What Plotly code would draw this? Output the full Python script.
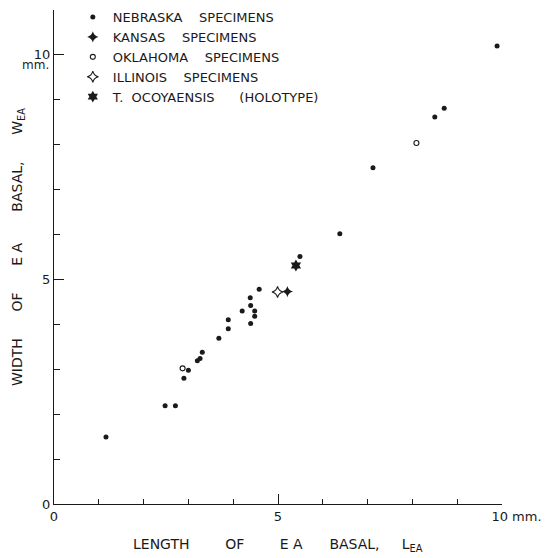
import plotly.graph_objects as go

NB = "\u00a0"

# Data (length L_EA, width W_EA) in mm
nebraska_x = [1.16, 2.48, 2.71, 2.90, 3.00, 3.20, 3.26, 3.31, 3.68, 3.89, 3.89, 4.20,
              4.39, 4.48, 4.48, 4.39, 4.38, 4.58, 5.49, 6.38, 7.12, 8.50, 8.71, 9.89]
nebraska_y = [1.49, 2.19, 2.19, 2.80, 2.98, 3.19, 3.24, 3.38, 3.69, 3.90, 4.10, 4.30,
              4.42, 4.30, 4.18, 4.02, 4.59, 4.78, 5.51, 6.02, 7.49, 8.62, 8.81, 10.20]
kansas_x = [5.21]
kansas_y = [4.73]
oklahoma_x = [2.87, 8.09]
oklahoma_y = [3.02, 8.04]
illinois_x = [4.99]
illinois_y = [4.72]
holotype_x = [5.40]
holotype_y = [5.31]

x_tickvals = [0, 5, 10]
x_ticktext = ["0", "5", NB * 7 + "10" + NB + "mm."]
x_minor = [1, 2, 3, 4, 6, 7, 8, 9]
y_tickvals = [0, 5, 10]
y_ticktext = ["0", "5", "10"]
y_unit = "mm."
y_minor = [1, 2, 3, 4, 6, 7, 8, 9, 11]

FONT = "DejaVu Sans, Liberation Sans, Arial, sans-serif"
INK = "#1a1a1a"

fig = go.Figure()
series = [
    ("NEBRASKA" + NB * 4 + "SPECIMENS", nebraska_x, nebraska_y, "circle", 5),
    ("KANSAS" + NB * 4 + "SPECIMENS", kansas_x, kansas_y, "star-diamond", 8),
    ("OKLAHOMA" + NB * 4 + "SPECIMENS", oklahoma_x, oklahoma_y, "circle-open", 5),
    ("ILLINOIS" + NB * 4 + "SPECIMENS", illinois_x, illinois_y, "star-diamond-open", 8),
    ("T." + NB * 2 + "OCOYAENSIS" + NB * 6 + "(HOLOTYPE)", holotype_x, holotype_y, "hexagram", 9),
]
for name, xs, ys, sym, size in series:
    fig.add_trace(go.Scatter(
        x=xs, y=ys, mode="markers", name=name,
        marker=dict(symbol=sym, size=size, color=INK,
                    line=dict(color=INK, width=1.1 if "open" in sym else 0)),
    ))

axis_common = dict(
    showgrid=False, zeroline=False, showline=True, linecolor=INK, linewidth=1.3,
    ticks="inside", ticklen=10, tickwidth=1.3, tickcolor=INK,
    tickfont=dict(family=FONT, size=13, color=INK),
)

x_title = ("LENGTH" + NB * 8 + "OF" + NB * 8 + "E" + NB + "A" + NB * 6 + "BASAL,"
           + NB * 5 + "L<sub>EA</sub>")
y_title = ("WIDTH" + NB * 6 + "OF" + NB * 6 + "E" + NB + "A" + NB * 7 + "BASAL,"
           + NB * 6 + "W<sub>EA</sub>")

fig.update_layout(
    width=550, height=558,
    margin=dict(l=54, r=48, t=10, b=54, autoexpand=False),
    paper_bgcolor="white", plot_bgcolor="white",
    font=dict(family=FONT, size=13, color=INK),
    xaxis=dict(range=[0, 10], tickmode="array", tickvals=x_tickvals, ticktext=x_ticktext,
               minor=dict(tickmode="array", tickvals=x_minor, ticks="inside", ticklen=5,
                          tickwidth=1.2, tickcolor=INK),
               automargin=False, **axis_common),
    yaxis=dict(range=[0, 11], tickmode="array", tickvals=y_tickvals, ticktext=y_ticktext,
               minor=dict(tickmode="array", tickvals=y_minor, ticks="inside", ticklen=6,
                          tickwidth=1.2, tickcolor=INK),
               automargin=False, **axis_common),
    showlegend=True,
    legend=dict(x=0.042, y=1.016, xanchor="left", yanchor="top", bgcolor="rgba(0,0,0,0)",
                font=dict(family=FONT, size=13, color=INK), tracegroupgap=0,
                itemwidth=30),
    annotations=[
        dict(text=x_title, xref="paper", yref="paper", x=0.5, y=-41 / 494,
             xanchor="center", yanchor="middle", showarrow=False,
             font=dict(family=FONT, size=14, color=INK)),
        dict(text=y_title, xref="paper", yref="paper", x=-36 / 448, y=(504 - 247) / 494,
             xanchor="center", yanchor="middle", textangle=-90, showarrow=False,
             font=dict(family=FONT, size=14, color=INK)),
        dict(text=y_unit, xref="paper", yref="y", x=-3 / 448, y=y_tickvals[-1],
             xanchor="right", yanchor="middle", yshift=-10, showarrow=False,
             font=dict(family=FONT, size=12, color=INK)),
    ],
)

fig.write_html("out.html", config={"displayModeBar": False},
               post_script="document.body.style.margin='0px';")
